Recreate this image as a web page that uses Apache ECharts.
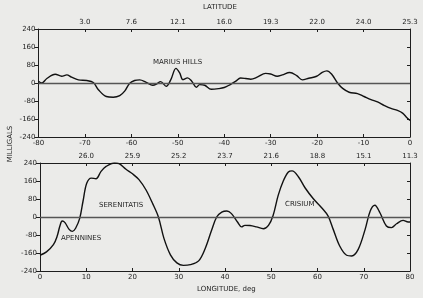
<!DOCTYPE html>
<html><head><meta charset="utf-8">
<script src="https://cdn.jsdelivr.net/npm/echarts@6/dist/echarts.min.js"></script>
<style>html,body{margin:0;padding:0;background:#ebebe9;}#c{width:423px;height:298px;}</style>
</head><body><div id="c"></div>
<script>
// Top panel (Marius Hills track): longitude vs milligals
var topLon = [-80,-79.3,-78.2,-76.4,-75,-73.9,-72.9,-71.4,-69.6,-68.2,-67.1,-65.4,-63.9,-62.5,-61.4,-60.4,-59.3,-58.2,-56.8,-55.4,-54.6,-53.7,-52.5,-51.5,-50.4,-49.6,-48.9,-47.9,-47,-46,-45.3,-44.2,-42.8,-41.2,-40,-38.8,-37.5,-36.5,-35.4,-34.3,-32.9,-31.1,-30,-28.6,-27.5,-25.9,-24.4,-23.2,-21.8,-20.1,-18.9,-17.9,-16.9,-15.6,-14.5,-13.1,-11.3,-9.9,-8.4,-7,-5.6,-4.1,-2.7,-1.6,-0.6,0];
var topVal = [8,0,20,39,30,36,26,14,11,2,-30,-60,-63,-56,-35,-2,11,14,3,-10,-5,6,-15,15,65,45,15,23,8,-19,-7,-10,-28,-25,-20,-8,8,22,20,17,26,43,40,30,36,47,33,14,21,30,47,54,40,0,-24,-41,-47,-60,-74,-84,-99,-113,-122,-134,-156,-167];
var topLatTicks = [-70,-60,-50,-40,-30,-20,-10,0];
var topLatLabels = ['3.0','7.6','12.1','16.0','19.3','22.0','24.0','25.3'];

// Bottom panel (Apennines-Serenitatis-Crisium track)
var botLon = [0,1.4,2.9,3.7,4.3,4.8,5.4,6.3,7,7.7,8.6,9.3,10.1,11.1,12.1,13.2,14.3,16.1,17.1,18.6,20,21.4,22.9,24.3,25.6,26.8,28.2,29.6,31,32.5,34.3,35.7,37.1,38.2,39.3,40.4,41.4,42.7,43.6,44.3,45.4,46.8,48.3,49.4,50.4,51.5,52.6,53.7,54.5,55.9,57.3,59.1,60.9,62.3,63.4,64.8,66.3,67.4,68.8,70.3,71.4,72.4,73.5,74.9,76,77.1,78.5,79.6,80];
var botVal = [-170,-155,-123,-86,-40,-18,-25,-55,-64,-50,-5,70,150,173,170,203,225,240,237,212,192,166,121,62,0,-95,-168,-204,-215,-212,-195,-141,-59,0,22,27,15,-22,-44,-37,-38,-44,-52,-37,7,96,160,200,205,178,130,81,41,4,-55,-129,-170,-173,-144,-55,27,52,19,-40,-47,-30,-15,-22,-22];
var botLatTicks = [10,20,30,40,50,60,70,80];
var botLatLabels = ['26.0','25.9','25.2','23.7','21.6','18.8','15.1','11.3'];

var yMin = -240, yMax = 240, yStep = 80;

function pairs(xs, ys){ return xs.map(function(x,i){ return [x, ys[i]]; }); }
function latFmt(ticks, labels){ return function(v){ var i = ticks.indexOf(Math.round(v)); return i >= 0 ? labels[i] : ''; }; }

var FONT = 'DejaVu Sans';
var INK = '#1e1e1e';
var lbl = {color: INK, fontSize: 7, fontFamily: FONT};
var axLine = {show: true, onZero: false, lineStyle: {color: INK, width: 1}};

function xBottom(gi, min, max){
  return {gridIndex: gi, type: 'value', min: min, max: max, interval: 10, position: 'bottom',
    axisLine: axLine, axisTick: {inside: true, length: 3, lineStyle: {color: INK}},
    axisLabel: Object.assign({margin: 3}, lbl), splitLine: {show: false}};
}
function xTop(gi, min, max, ticks, labels){
  return {gridIndex: gi, type: 'value', min: min, max: max, interval: 10, position: 'top',
    axisLine: axLine, axisTick: {inside: true, length: 3, lineStyle: {color: INK}},
    axisLabel: Object.assign({margin: 3, formatter: latFmt(ticks, labels)}, lbl), splitLine: {show: false}};
}
function yLeft(gi){
  return {gridIndex: gi, type: 'value', min: yMin, max: yMax, interval: yStep, position: 'left',
    axisLine: axLine, axisTick: {show: true, length: 4, lineStyle: {color: INK}},
    axisLabel: Object.assign({margin: 3}, lbl), splitLine: {show: false}};
}
function yRight(gi){
  return {gridIndex: gi, type: 'value', min: yMin, max: yMax, interval: yStep, position: 'right',
    axisLine: axLine, axisTick: {show: true, inside: true, length: 3, lineStyle: {color: INK}},
    axisLabel: {show: false}, splitLine: {show: false}};
}
function curve(xi, yi, data){
  return {type: 'line', xAxisIndex: xi, yAxisIndex: yi, data: data, smooth: 0.35, showSymbol: false,
    lineStyle: {color: '#111', width: 1.4}, silent: true,
    markLine: {silent: true, symbol: 'none', label: {show: false},
      lineStyle: {color: '#555', width: 1.3, type: 'solid'}, data: [{yAxis: 0}]}};
}

var chart = echarts.init(document.getElementById('c'), null, {renderer: 'canvas'});
chart.setOption({
  backgroundColor: '#ebebe9',
  animation: false,
  grid: [
    {left: 38.5, right: 13, top: 29, height: 108},
    {left: 40, right: 13, top: 163, height: 108}
  ],
  xAxis: [
    xBottom(0, -80, 0),
    xTop(0, -80, 0, topLatTicks, topLatLabels),
    xBottom(1, 0, 80),
    xTop(1, 0, 80, botLatTicks, botLatLabels)
  ],
  yAxis: [yLeft(0), yRight(0), yLeft(1), yRight(1)],
  series: [
    curve(0, 0, pairs(topLon, topVal)),
    curve(2, 2, pairs(botLon, botVal))
  ],
  graphic: [
    {type: 'text', left: 203, top: 4, style: {text: 'LATITUDE', fill: INK, font: '7px ' + FONT}},
    {type: 'text', left: 197, top: 286, style: {text: 'LONGITUDE, deg', fill: INK, font: '7px ' + FONT}},
    {type: 'text', x: 10, y: 144, rotation: Math.PI/2, style: {text: 'MILLIGALS', fill: INK, font: '7px ' + FONT, align: 'center', verticalAlign: 'middle'}},
    {type: 'text', left: 153, top: 59, style: {text: 'MARIUS HILLS', fill: INK, font: '7px ' + FONT}},
    {type: 'text', left: 99, top: 202, style: {text: 'SERENITATIS', fill: INK, font: '7px ' + FONT}},
    {type: 'text', left: 61, top: 235, style: {text: 'APENNINES', fill: INK, font: '7px ' + FONT}},
    {type: 'text', left: 285, top: 201, style: {text: 'CRISIUM', fill: INK, font: '7px ' + FONT}}
  ]
});
</script></body></html>
